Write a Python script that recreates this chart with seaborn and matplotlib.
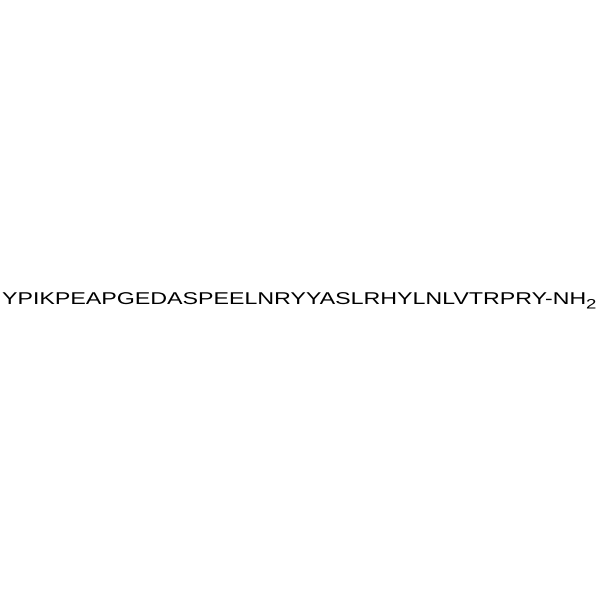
import matplotlib
matplotlib.use("Agg")
import matplotlib.pyplot as plt
import seaborn as sns
from matplotlib.patheffects import AbstractPathEffect
from matplotlib.transforms import Affine2D

sequence = "YPIKPEAPGEDASPEELNRYYASLRHYLNLVTRPRY"
c_terminus = "-NH"
subscript = "2"

sns.set_theme(style="white")
plt.rcParams['font.family'] = ['Liberation Sans', 'DejaVu Sans']


class HStretch(AbstractPathEffect):
    """Stretch glyphs horizontally about a fixed display x position."""
    def __init__(self, sx=1.0, cx=0.0):
        super().__init__()
        self.sx = sx
        self.cx = cx

    def draw_path(self, renderer, gc, tpath, affine, rgbFace=None):
        aff = affine + Affine2D().translate(-self.cx, 0).scale(self.sx, 1).translate(self.cx, 0)
        renderer.draw_path(gc, tpath, aff, rgbFace)


W, H, DPI = 6, 6, 100
fig = plt.figure(figsize=(W, H), dpi=DPI)
fig.patch.set_facecolor("white")
ax = fig.add_axes([0, 0, 1, 1])
ax.set_axis_off()

left_px, right_px, baseline_px = 2.0, 586.0, 304.0
center_px = (left_px + right_px) / 2
fs = 12.3

stretch = HStretch(1.0, center_px)
main = ax.text(center_px / (W * DPI), 1 - baseline_px / (H * DPI), sequence + c_terminus,
               ha="center", va="baseline", fontsize=fs, color="black",
               transform=ax.transAxes)
sub = ax.annotate(subscript, xy=(1, 0), xycoords=main, xytext=(0.0, -1.5),
                  textcoords="offset pixels", ha="left", va="baseline",
                  fontsize=fs * 0.8, color="black")

renderer = fig.canvas.get_renderer()
bb = main.get_window_extent(renderer)
stretch.sx = (right_px - left_px) / bb.width
main.set_path_effects([stretch])
sub.set_path_effects([stretch])

fig.savefig("out.png", dpi=DPI, facecolor="white")
